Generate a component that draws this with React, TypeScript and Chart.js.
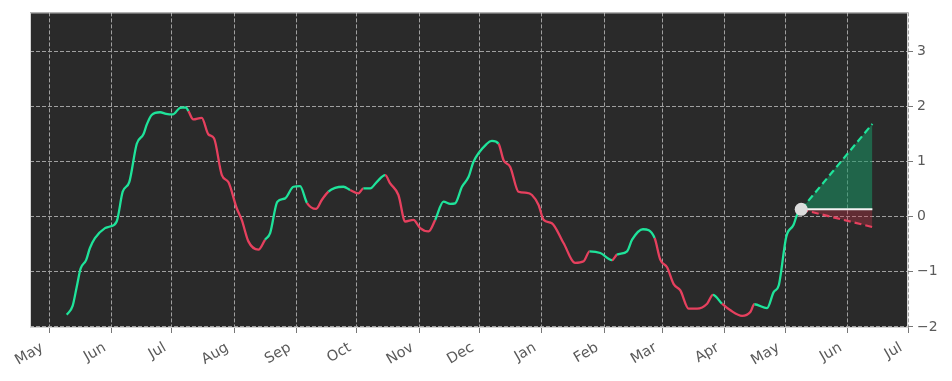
import React, { useEffect, useRef } from "react";
import { Chart, registerables } from "chart.js";

Chart.register(...registerables);

// x values: days since 2023-05-01
const trendDays = [
  8.7, 11.6, 13.6, 15.6, 18.3, 20.2, 22.7, 27.7, 30.2, 33.5, 36.5, 39.8, 43.5, 46.8, 48.5, 50.9,
  55.1, 58.1, 61.4, 65.0, 67.9, 69.2, 71.6, 75.8, 79.1, 81.9, 85.8, 89.1, 93.2, 95.7, 99.0, 104.0,
  107.3, 109.8, 113.4, 117.3, 121.4, 124.7, 128.1, 132.7, 135.5, 138.8, 142.1, 146.3, 149.6, 153.7,
  156.2, 159.6, 162.9, 167.0, 169.5, 173.6, 177.0, 181.1, 184.4, 188.6, 191.9, 196.0, 199.4, 201.8,
  205.2, 208.5, 210.9, 217.6, 220.1, 223.4, 225.9, 229.2, 233.3, 237.5, 240.0, 243.3, 245.8, 249.9,
  255.7, 261.5, 265.7, 268.7, 274.0, 279.8, 282.3, 287.3, 289.8, 295.2, 301.0, 303.8, 307.2, 310.4,
  313.8, 317.9, 322.1, 327.1, 330.0, 334.5, 338.7, 344.5, 348.6, 350.6, 356.9, 360.2, 362.7, 366.5,
  370.1, 371.8, 373.9,
];
const trendValues = [
  -1.78, -1.62, -1.28, -0.94, -0.79, -0.57, -0.39, -0.21, -0.18, -0.09, 0.45, 0.63, 1.32, 1.49, 1.67, 1.84,
  1.89, 1.86, 1.85, 1.97, 1.98, 1.91, 1.76, 1.79, 1.49, 1.42, 0.75, 0.62, 0.15, -0.06, -0.45, -0.6,
  -0.42, -0.3, 0.27, 0.33, 0.54, 0.55, 0.25, 0.14, 0.3, 0.45, 0.52, 0.54, 0.48, 0.42,
  0.51, 0.51, 0.63, 0.75, 0.6, 0.39, -0.09, -0.06, -0.21, -0.27, -0.06, 0.27, 0.23, 0.24,
  0.54, 0.72, 0.99, 1.32, 1.37, 1.32, 1.02, 0.9, 0.45, 0.43, 0.39, 0.21, -0.06, -0.12,
  -0.48, -0.84, -0.81, -0.63, -0.66, -0.79, -0.69, -0.63, -0.42, -0.23, -0.39, -0.78, -0.92, -1.22,
  -1.34, -1.67, -1.67, -1.58, -1.42, -1.58, -1.7, -1.8, -1.73, -1.59, -1.66, -1.37, -1.25, -0.36,
  -0.15, 0.03, 0.13,
];
// periods (day ranges) in which the trend is down (drawn red)
const downtrendStart = [69, 128, 149, 168, 224, 279, 301, 334];
const downtrendEnd = [107, 138, 156, 191, 268.5, 282, 330, 350];

// forecast cone
const forecastDays = [373.9, 409.3];
const forecastUpper = [0.13, 1.68];
const forecastFlat = [0.13, 0.13];
const forecastLower = [0.13, -0.19];

// axis ticks
const monthTickDays = [0, 31, 61, 92, 123, 153, 184, 214, 245, 276, 305, 336, 366, 397, 427];
const monthTickLabels = ["May", "Jun", "Jul", "Aug", "Sep", "Oct", "Nov", "Dec", "Jan", "Feb", "Mar", "Apr", "May", "Jun", "Jul"];
const yTickValues = [-2, -1, 0, 1, 2, 3];

const GREEN = "#1fe39a";
const RED = "#e6405e";
const LABEL_COLOR = "#5a5a5a";

const isDown = (d: number) => downtrendStart.some((s, i) => d >= s && d < downtrendEnd[i]);

const bgPlugin = {
  id: "plotBg",
  beforeDraw(chart: any) {
    const { ctx, chartArea } = chart;
    ctx.save();
    ctx.fillStyle = "#2a2a2a";
    ctx.fillRect(chartArea.left, chartArea.top, chartArea.right - chartArea.left, chartArea.bottom - chartArea.top);
    ctx.restore();
  },
  afterDraw(chart: any) {
    const { ctx, chartArea, scales } = chart;
    ctx.save();
    ctx.strokeStyle = "#d4d4d4";
    ctx.lineWidth = 1;
    ctx.strokeRect(chartArea.left + 0.5, chartArea.top + 0.5, chartArea.right - chartArea.left - 1, chartArea.bottom - chartArea.top - 1);
    // rotated month labels, right-aligned under each tick
    ctx.fillStyle = LABEL_COLOR;
    ctx.font = "14.5px 'DejaVu Sans'";
    ctx.textAlign = "right";
    ctx.textBaseline = "alphabetic";
    monthTickDays.forEach((d, i) => {
      const x = scales.x.getPixelForValue(d);
      ctx.save();
      ctx.translate(x - 5, chartArea.bottom + 22);
      ctx.rotate(-Math.PI / 6);
      ctx.fillText(monthTickLabels[i], 0, 0);
      ctx.restore();
    });
    ctx.restore();
  },
};

export default function App() {
  const ref = useRef<HTMLCanvasElement | null>(null);
  useEffect(() => {
    if (!ref.current) return;
    const pts = (xs: number[], ys: number[]) => xs.map((x, i) => ({ x, y: ys[i] }));
    const gridOpts = {
      color: "#a0a0a0",
      lineWidth: 1,
      drawTicks: true,
      tickLength: 5,
      tickColor: "#777",
      tickBorderDash: [],
    };
    const chart = new Chart(ref.current, {
      type: "line",
      data: {
        datasets: [
          {
            data: pts(trendDays, trendValues),
            borderWidth: 2.3,
            borderColor: GREEN,
            pointRadius: 0,
            cubicInterpolationMode: "monotone",
            segment: {
              borderColor: (c: any) => (isDown((c.p0.parsed.x + c.p1.parsed.x) / 2) ? RED : GREEN),
            },
            order: 3,
          },
          {
            data: pts(forecastDays, forecastUpper),
            borderColor: GREEN,
            borderWidth: 2.2,
            borderDash: [7, 4],
            pointRadius: 0,
            fill: { target: 2 },
            backgroundColor: "rgba(24,150,100,0.55)",
            order: 2,
          },
          {
            data: pts(forecastDays, forecastFlat),
            borderColor: "#f2f2f2",
            borderWidth: 2,
            pointRadius: 0,
            order: 1,
          },
          {
            data: pts(forecastDays, forecastLower),
            borderColor: RED,
            borderWidth: 2.2,
            borderDash: [7, 4],
            pointRadius: 0,
            fill: { target: 2 },
            backgroundColor: "rgba(200,50,70,0.35)",
            order: 2,
          },
          {
            data: [{ x: forecastDays[0], y: forecastFlat[0] }],
            showLine: false,
            pointRadius: 6.5,
            pointBackgroundColor: "#dcdcdc",
            pointBorderColor: "#dcdcdc",
            pointBorderWidth: 0,
            order: 0,
          },
        ],
      },
      options: {
        animation: false,
        responsive: false,
        maintainAspectRatio: false,
        layout: { padding: { left: 30, top: 10, right: 0, bottom: 0 } },
        plugins: { legend: { display: false }, tooltip: { enabled: false } },
        scales: {
          x: {
            type: "linear",
            min: -9.6,
            max: 427,
            afterBuildTicks: (s: any) => {
              s.ticks = monthTickDays.map((v) => ({ value: v }));
            },
            afterFit: (s: any) => {
              s.height = 53;
            },
            ticks: {
              display: false,
              autoSkip: false,
            },
            grid: gridOpts,
            border: { display: false, dash: [4, 2] },
          },
          y: {
            type: "linear",
            position: "right",
            min: -2.02,
            max: 3.7,
            afterBuildTicks: (s: any) => {
              s.ticks = yTickValues.map((v) => ({ value: v }));
            },
            afterFit: (s: any) => {
              s.width = 44;
            },
            ticks: {
              padding: 4,
              color: LABEL_COLOR,
              font: { family: "DejaVu Sans", size: 14 },
              callback: (v: any) => String(v).replace("-", "\u2212"),
            },
            grid: gridOpts,
            border: { display: false, dash: [4, 2] },
          },
        },
      },
      plugins: [bgPlugin],
    } as any);
    return () => chart.destroy();
  }, []);
  return (
    <div style={{ position: "absolute", left: 0, top: 0, width: 952, height: 381, background: "#fff" }}>
      <canvas ref={ref} width={952} height={381} style={{ display: "block" }} />
    </div>
  );
}
